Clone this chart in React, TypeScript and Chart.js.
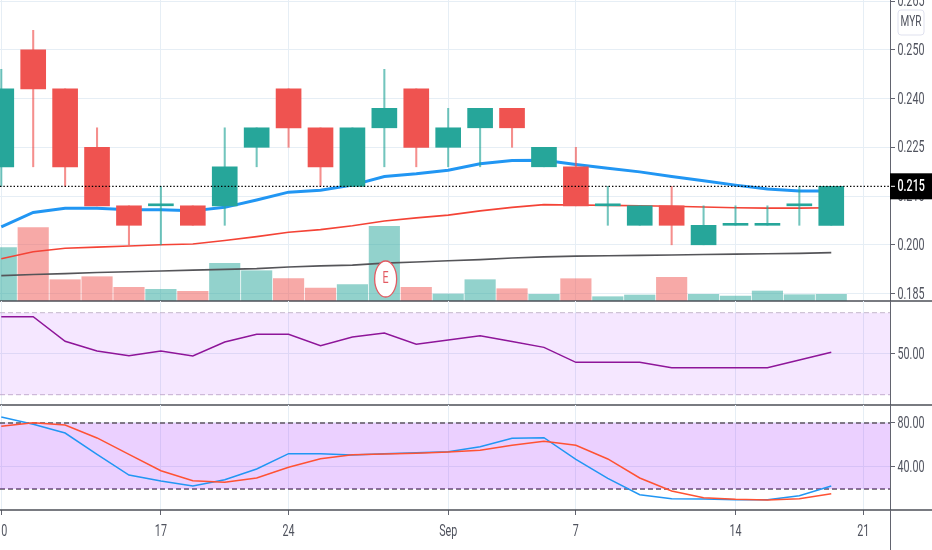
import React, { useEffect, useRef } from "react";
import { Chart, registerables } from "chart.js";

Chart.register(...registerables);

// ---- data ----
const opens = [0.22, 0.25, 0.24, 0.225, 0.21, 0.21, 0.21, 0.21, 0.225, 0.24, 0.23, 0.215, 0.23, 0.24, 0.225, 0.23, 0.235, 0.22, 0.22, 0.21, 0.205, 0.21, 0.2, 0.205, 0.205, 0.21, 0.205];
const highs = [0.245, 0.255, 0.24, 0.23, 0.21, 0.215, 0.21, 0.23, 0.23, 0.24, 0.23, 0.23, 0.245, 0.24, 0.235, 0.235, 0.235, 0.225, 0.225, 0.215, 0.21, 0.215, 0.21, 0.21, 0.21, 0.215, 0.215];
const lows = [0.215, 0.22, 0.215, 0.21, 0.2, 0.2, 0.205, 0.205, 0.22, 0.225, 0.215, 0.215, 0.22, 0.22, 0.22, 0.22, 0.225, 0.22, 0.21, 0.205, 0.205, 0.2, 0.2, 0.205, 0.205, 0.205, 0.205];
const closes = [0.24, 0.24, 0.22, 0.21, 0.205, 0.21, 0.205, 0.22, 0.23, 0.23, 0.22, 0.23, 0.235, 0.225, 0.23, 0.235, 0.23, 0.225, 0.21, 0.21, 0.21, 0.205, 0.205, 0.205, 0.205, 0.21, 0.215];
const volumes = [533, 733, 213, 243, 137, 117, 97, 377, 303, 223, 130, 163, 747, 137, 70, 213, 123, 67, 223, 43, 60, 237, 67, 50, 100, 63, 67];
const maFast = [0.2046, 0.2083, 0.2094, 0.2094, 0.209, 0.209, 0.2087, 0.2096, 0.2115, 0.2135, 0.214, 0.2153, 0.2175, 0.2182, 0.2191, 0.2208, 0.2216, 0.2217, 0.2206, 0.2196, 0.2187, 0.2175, 0.2164, 0.2153, 0.2143, 0.2138, 0.2138];
const maMid = [0.1964, 0.1982, 0.1991, 0.1994, 0.1997, 0.2, 0.2002, 0.2011, 0.2021, 0.2032, 0.2039, 0.2049, 0.2061, 0.2069, 0.2076, 0.2087, 0.2096, 0.2103, 0.2102, 0.2101, 0.21, 0.2099, 0.2097, 0.2095, 0.2094, 0.2094, 0.2095];
const maSlow = [0.1921, 0.1924, 0.1926, 0.1929, 0.1931, 0.1933, 0.1935, 0.1937, 0.1939, 0.1943, 0.1946, 0.1948, 0.1953, 0.1956, 0.1959, 0.1962, 0.1966, 0.1969, 0.1971, 0.1972, 0.1973, 0.1974, 0.1975, 0.1976, 0.1977, 0.1978, 0.198];
const rsi = [68.05, 68.05, 56.05, 51.3, 49, 51.3, 48.9, 55.7, 59.5, 59.5, 53.9, 58.1, 60.1, 54.6, 56.7, 58.8, 55.9, 53.1, 45.8, 45.8, 45.8, 43.2, 43.2, 43.2, 43.2, 46.9, 50.7];
const stochK = [85.5, 78.8, 70.9, 51.5, 32.7, 27.3, 22.7, 28.5, 38.2, 52.1, 52.1, 50.9, 52.1, 53, 53.9, 58.5, 66.1, 66.6, 47, 29.7, 14.8, 11.2, 10.9, 10.3, 10.3, 13.9, 22.7];
const stochD = [77, 80.3, 78.2, 66.4, 51.5, 36.6, 27.5, 26.1, 30, 39.7, 47.5, 51.2, 51.8, 52.5, 53.6, 55.2, 59.7, 63.4, 59.7, 47.3, 30, 18.2, 12.1, 10.6, 10, 11.2, 15.7];
const lastPrice = 0.215;
const earningsIndex = 12;
const timeTicks = [0, 5, 9, 14, 18, 23, 27];
const timeLabels = ["10", "17", "24", "Sep", "7", "14", "21"];
const priceTicks = [0.1875, 0.2, 0.2125, 0.225, 0.2375, 0.25, 0.2625];
const priceLabels = ["0.185", "0.200", "0.210", "0.225", "0.240", "0.250", "0.265"];
const rsiTicks = [50];
const rsiLabels = ["50.00"];
const stochTicks = [40, 80];
const stochLabels = ["40.00", "80.00"];
const rsiBand = [30, 70];
const stochBand = [20, 80];

// ---- style ----
const X_MIN = -0.04;
const X_MAX = 27.84;
const UP = "#26a69a";
const DOWN = "#ef5350";
const GRID = "#e6eef5";
const AXIS = "#62646f";
const SEP = "#4d4f57";
const TEXT = "#50535e";
const FONT = 'Roboto, sans-serif';
const FONT_SIZE = 16;
const SQUEEZE = 0.67;

const xy = (arr: number[]) => arr.map((y, x) => ({ x, y }));
const flat = (v: number) => [{ x: X_MIN, y: v }, { x: X_MAX, y: v }];

// The reference's text is horizontally narrow, so it is drawn squeezed.
function squeezedText(ctx: CanvasRenderingContext2D, text: string, x: number, y: number, align: CanvasTextAlign, color: string, size = FONT_SIZE, weight = "400") {
  ctx.save();
  ctx.translate(x, y);
  ctx.scale(SQUEEZE, 1);
  ctx.font = `${weight} ${size}px ${FONT}`;
  ctx.fillStyle = color;
  ctx.textAlign = align;
  ctx.textBaseline = "middle";
  ctx.fillText(text, 0, 0);
  ctx.restore();
}

function labelPlugin(yTicks: number[], yLabels: string[], showTime: boolean) {
  return {
    id: "axisLabels",
    afterDraw(chart: any) {
      const { ctx, chartArea, scales } = chart;
      yTicks.forEach((v, i) => {
        squeezedText(ctx, yLabels[i], chartArea.right + 7.5, scales.y.getPixelForValue(v) + 1, "left", TEXT);
      });
      if (showTime) {
        timeTicks.forEach((v, i) => {
          squeezedText(ctx, timeLabels[i], scales.x.getPixelForValue(v), 532 - 405, "center", TEXT);
        });
      }
    },
  };
}

function baseOptions(
  yMin: number, yMax: number, yTicks: number[],
  showTime: boolean, padBottom: number, extraScales: any = {}
): any {
  return {
    responsive: false,
    animation: false,
    events: [],
    layout: { padding: { left: 0, right: 0, top: 0, bottom: padBottom } },
    plugins: { legend: { display: false }, tooltip: { enabled: false } },
    scales: {
      x: {
        type: "linear",
        offset: false,
        min: X_MIN,
        max: X_MAX,
        afterBuildTicks: (s: any) => { s.ticks = timeTicks.map((value) => ({ value })); },
        afterFit: (s: any) => {
          s.paddingLeft = 0; s.paddingRight = 0;
          if (showTime) s.height = 40;
        },
        grid: {
          offset: false,
          color: GRID,
          lineWidth: 1,
          drawTicks: showTime,
          tickLength: 5,
          tickColor: AXIS,
        },
        border: { display: false },
        ticks: { display: false, autoSkip: false },
      },
      y: {
        position: "right",
        min: yMin,
        max: yMax,
        afterBuildTicks: (s: any) => { s.ticks = yTicks.map((value) => ({ value })); },
        afterFit: (s: any) => { s.width = 42; s.paddingTop = 0; s.paddingBottom = 0; },
        grid: { color: GRID, lineWidth: 1, tickLength: 5, tickColor: AXIS },
        border: { color: AXIS, width: 1 },
        ticks: { display: false, autoSkip: false },
      },
      ...extraScales,
    },
  };
}

const paneLine = {
  id: "paneLine",
  afterDraw(chart: any) {
    const { ctx, chartArea, width, height } = chart;
    ctx.save();
    ctx.strokeStyle = SEP;
    ctx.lineWidth = 1.4;
    ctx.beginPath();
    ctx.moveTo(0, chartArea.bottom);
    ctx.lineTo(width, chartArea.bottom);
    ctx.stroke();
    if (height - chartArea.bottom > 10) {
      ctx.strokeStyle = AXIS;
      ctx.lineWidth = 1;
      ctx.beginPath();
      ctx.moveTo(chartArea.right + 0.5, chartArea.bottom);
      ctx.lineTo(chartArea.right + 0.5, height);
      ctx.stroke();
    }
    ctx.restore();
  },
};

const priceDecor = {
  id: "priceDecor",
  afterDraw(chart: any) {
    const { ctx, chartArea, scales } = chart;
    const yPx = scales.y.getPixelForValue(lastPrice);
    ctx.save();
    // last-price tag
    ctx.fillStyle = "#000000";
    ctx.fillRect(chartArea.right, yPx - 13, 42, 26);
    ctx.fillStyle = "#ffffff";
    ctx.fillRect(chartArea.right + 1, yPx - 0.5, 4, 1);
    squeezedText(ctx, lastPrice.toFixed(3), chartArea.right + 7.5, yPx + 0.5, "left", "#ffffff", FONT_SIZE, "500");
    // currency box
    ctx.fillStyle = "#ffffff";
    ctx.strokeStyle = "#dfe1ee";
    ctx.lineWidth = 1;
    ctx.beginPath();
    ctx.roundRect(898, 10, 26, 25, 3);
    ctx.fill();
    ctx.stroke();
    squeezedText(ctx, "MYR", 911, 22.5, "center", TEXT, FONT_SIZE - 1);
    // earnings marker
    const ex = scales.x.getPixelForValue(earningsIndex);
    ctx.fillStyle = "#ffffff";
    ctx.strokeStyle = "#e35a62";
    ctx.lineWidth = 1.3;
    ctx.beginPath();
    ctx.ellipse(ex + 1.3, 279, 11, 18, 0, 0, Math.PI * 2);
    ctx.fill();
    ctx.stroke();
    squeezedText(ctx, "E", ex + 1.3, 279, "center", "#e35a62");
    ctx.restore();
  },
};

function makeMain(canvas: HTMLCanvasElement) {
  const dir = closes.map((c, i) => c >= opens[i]);
  const solid = dir.map((u) => (u ? UP : DOWN));
  const soft = dir.map((u) => (u ? "rgba(38,166,154,0.5)" : "rgba(239,83,80,0.5)"));
  const wick = dir.map((u) => (u ? "rgba(38,166,154,0.65)" : "rgba(239,83,80,0.65)"));
  return new Chart(canvas, {
    type: "bar",
    data: {
      datasets: [
        { type: "bar", yAxisID: "vol", order: 9, grouped: false, barThickness: 30.5, backgroundColor: soft,
          data: xy(volumes) },
        { type: "line", order: 8, borderColor: "#555559", borderWidth: 1.6, pointRadius: 0, data: xy(maSlow) },
        { type: "line", order: 7, borderColor: "#f44336", borderWidth: 1.6, pointRadius: 0, data: xy(maMid) },
        { type: "line", order: 6, borderColor: "#2196f3", borderWidth: 3, pointRadius: 0, data: xy(maFast) },
        { type: "bar", order: 5, grouped: false, barThickness: 1.4, backgroundColor: wick,
          data: highs.map((h, x) => ({ x, y: [lows[x], h] })) },
        { type: "bar", order: 4, grouped: false, barThickness: 25, minBarLength: 2, backgroundColor: solid,
          data: opens.map((o, x) => ({ x, y: [o, closes[x]] })) },
        { type: "line", order: 1, borderColor: "#000000", borderWidth: 1.2, borderDash: [1.4, 2], pointRadius: 0,
          data: flat(lastPrice) },
      ],
    } as any,
    options: baseOptions(0.18559, 0.26277, priceTicks, false, 1, {
      vol: { display: false, position: "left", min: 0, max: 3010 },
    }),
    plugins: [paneLine, labelPlugin(priceTicks, priceLabels, false), priceDecor],
  } as any);
}

function makeRsi(canvas: HTMLCanvasElement) {
  return new Chart(canvas, {
    type: "line",
    data: {
      datasets: [
        { order: 3, borderColor: "#c4b7cb", borderWidth: 1, borderDash: [5, 3], pointRadius: 0,
          backgroundColor: "rgba(153,21,255,0.1)", fill: { target: { value: rsiBand[0] } }, data: flat(rsiBand[1]) },
        { order: 3, borderColor: "#c4b7cb", borderWidth: 1, borderDash: [5, 3], pointRadius: 0, data: flat(rsiBand[0]) },
        { order: 1, borderColor: "#8e1599", borderWidth: 1.5, pointRadius: 0, data: xy(rsi) },
      ],
    } as any,
    options: baseOptions(24.98, 75.71, rsiTicks, false, 1),
    plugins: [paneLine, labelPlugin(rsiTicks, rsiLabels, false)],
  } as any);
}

function makeStoch(canvas: HTMLCanvasElement) {
  return new Chart(canvas, {
    type: "line",
    data: {
      datasets: [
        { order: 3, borderColor: "#5d5460", borderWidth: 1.6, borderDash: [5, 3], pointRadius: 0,
          backgroundColor: "rgba(153,21,255,0.2)", fill: { target: { value: stochBand[0] } }, data: flat(stochBand[1]) },
        { order: 3, borderColor: "#5d5460", borderWidth: 1.6, borderDash: [5, 3], pointRadius: 0, data: flat(stochBand[0]) },
        { order: 2, borderColor: "#2196f3", borderWidth: 1.5, pointRadius: 0, data: xy(stochK) },
        { order: 1, borderColor: "#ff5233", borderWidth: 1.5, pointRadius: 0, data: xy(stochD) },
      ],
    } as any,
    options: baseOptions(0.91, 96.36, stochTicks, true, 0),
    plugins: [paneLine, labelPlugin(stochTicks, stochLabels, true)],
  } as any);
}

export default function App() {
  const mainRef = useRef<HTMLCanvasElement>(null);
  const rsiRef = useRef<HTMLCanvasElement>(null);
  const stochRef = useRef<HTMLCanvasElement>(null);

  useEffect(() => {
    document.body.style.margin = "0";
    document.body.style.background = "#ffffff";
    const charts = [makeMain(mainRef.current!), makeRsi(rsiRef.current!), makeStoch(stochRef.current!)];
    return () => charts.forEach((c) => c.destroy());
  }, []);

  const place = (top: number): React.CSSProperties => ({ position: "absolute", left: 0, top, display: "block" });
  return (
    <div style={{ position: "absolute", left: 0, top: 0, width: 932, height: 550, overflow: "hidden", background: "#fff" }}>
      <canvas ref={mainRef} width={932} height={302} style={place(0)} />
      <canvas ref={rsiRef} width={932} height={105} style={place(301)} />
      <canvas ref={stochRef} width={932} height={145} style={place(405)} />
    </div>
  );
}
